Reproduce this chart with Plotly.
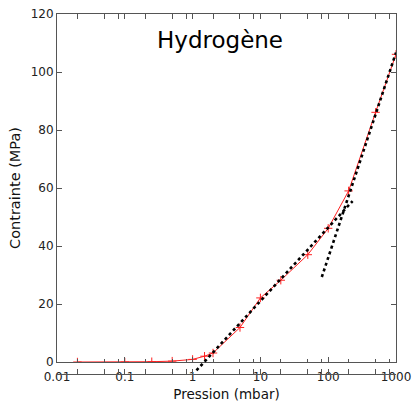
import plotly.graph_objects as go

# Measured data (pressure in mbar, stress in MPa)
pression = [0.02, 0.1, 0.25, 0.5, 1.0, 1.5, 2, 5, 10, 20, 50, 100, 200, 500, 1000]
contrainte = [0.0, 0.0, 0.1, 0.3, 0.9, 2.0, 3.1, 11.9, 22.1, 28.2, 37.0, 46.1, 59.0, 86.1, 106.1]

# Linear (log-x) fits, endpoints
fitA_x = [1.14, 229]
fitA_y = [-2.9, 55.5]
fitB_x = [80.5, 1000]
fitB_y = [29.3, 106.7]

xtick_vals = [0.01, 0.1, 1, 10, 100, 1000]
xtick_text = ["0.01", "0.1", "1", "10", "100", "1000"]
minor_vals = [m * d for d in [0.01, 0.1, 1, 10, 100] for m in (2, 5, 8)]
ytick_vals = [0, 20, 40, 60, 80, 100, 120]

FONT = "DejaVu Sans"
W, H = 414, 403
ML, MR, MT, MB = 57, 18, 14, 29
EXT = 12  # px the fit subplot extends below the x axis
plot_h = H - MT - MB
y_lo = -EXT * 120 / (plot_h - EXT)

fig = go.Figure()
fig.add_trace(go.Scatter(
    x=pression, y=contrainte, mode="lines+markers",
    line=dict(color="#ff2020", width=1),
    marker=dict(symbol="cross-thin", size=6, line=dict(color="#ff2020", width=1)),
    xaxis="x", yaxis="y", showlegend=False))
for fx, fy in ((fitA_x, fitA_y), (fitB_x, fitB_y)):
    fig.add_trace(go.Scatter(
        x=fx, y=fy, mode="lines",
        line=dict(color="black", width=2.6, dash="dot"),
        xaxis="x", yaxis="y2", showlegend=False))

axis_common = dict(
    showline=True, linecolor="#555555", linewidth=1, mirror="allticks",
    ticks="inside", tickcolor="#555555", showgrid=False, zeroline=False,
    automargin=False,
    tickfont=dict(family=FONT, size=12, color="#222222"),
)

fig.update_layout(
    width=W, height=H,
    margin=dict(l=ML, r=MR, t=MT, b=MB),
    paper_bgcolor="white", plot_bgcolor="rgba(0,0,0,0)",
    font=dict(family=FONT, color="#111111"),
    xaxis=dict(
        type="log", range=[-2, 3], anchor="y",
        tickvals=xtick_vals, ticktext=xtick_text, ticklen=5, ticklabelstandoff=4,
        minor=dict(tickvals=minor_vals, ticks="inside", ticklen=3, tickcolor="#555555"),
        title=dict(text="Pression (mbar)", font=dict(family=FONT, size=13.5, color="#111111"), standoff=6),
        **axis_common),
    yaxis=dict(
        range=[0, 120], domain=[EXT / plot_h, 1], tickvals=ytick_vals, ticklen=5,
        title=dict(text="Contrainte (MPa)", font=dict(family=FONT, size=14.5, color="#111111"), standoff=6),
        **axis_common),
    yaxis2=dict(range=[y_lo, 120], domain=[0, 1], visible=False, anchor="x", automargin=False),
    annotations=[dict(
        text="Hydrogène", xref="x domain", yref="y domain",
        x=(220 - ML) / (W - ML - MR), y=1 - 26 / (plot_h - EXT),
        xanchor="center", yanchor="middle", showarrow=False,
        font=dict(family=FONT, size=23, color="black"))],
)

fig.write_html("out.html")
